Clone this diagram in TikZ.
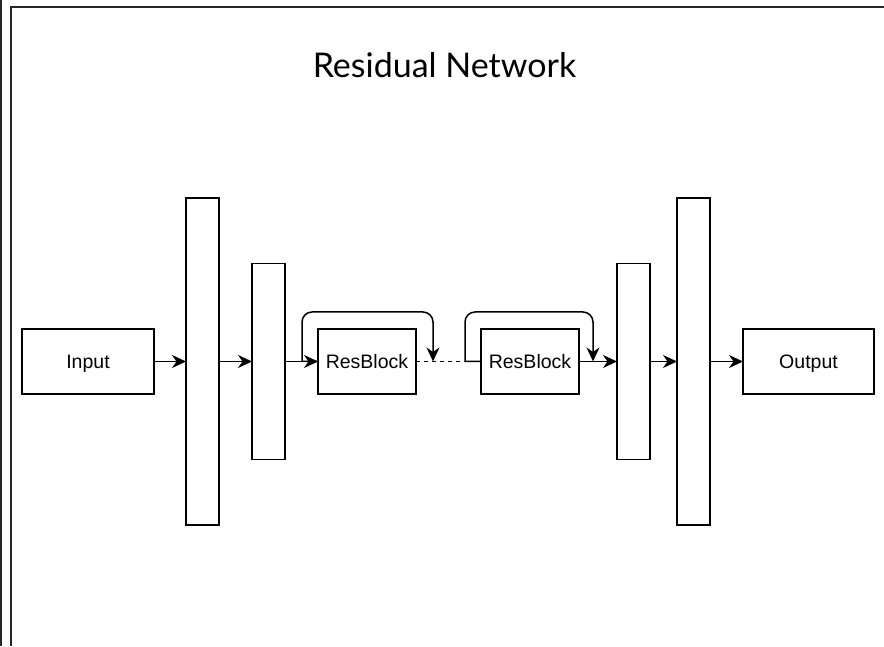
\documentclass[tikz,border=0pt]{standalone}
\usepackage{fontspec}
\setmainfont{Liberation Sans}
\newfontfamily\titlefont{Lato}
\usetikzlibrary{positioning, arrows.meta}

\begin{document}
\begin{tikzpicture}[x=1pt, y=1pt,
	box/.style={draw, line width=1.5pt, outer sep=0pt, minimum width=132pt, minimum height=65pt, inner sep=0pt, text height=15pt, text depth=0pt, font=\fontsize{19.5}{22}\selectfont},
	bar/.style={draw, line width=1.5pt, outer sep=0pt, minimum width=33pt, inner sep=0pt},
	flow/.style={line width=1.5pt, -{Stealth[length=14pt, width=13pt, inset=4.5pt]}}]
	\useasboundingbox (0,0) rectangle (884,646);
	\draw[line width=2pt, black!85] (1,0) -- (1,646);
	\draw[line width=2pt, black!85] (11,0) -- (11,639) -- (890,639);
	
	\node[anchor=base, font=\titlefont\fontsize{34}{38}\selectfont] (title) at (444.5,568) {Residual Network};
	
	\node[box] (in) at (88,284.5) {Input};
	\node[bar, minimum height=327pt, right=32pt of in] (e1) {};
	\node[bar, minimum height=196pt, right=33pt of e1] (e2) {};
	\node[box, minimum width=98pt, right=33pt of e2] (r1) {ResBlock};
	\node[box, minimum width=98pt, right=65pt of r1] (r2) {ResBlock};
	\node[bar, minimum height=196pt, right=38pt of r2] (d1) {};
	\node[bar, minimum height=327pt, right=27pt of d1] (d2) {};
	\node[box, minimum width=131pt, right=33pt of d2] (out) {Output};
	
	\coordinate[left=16pt of r1] (s1);
	\coordinate[right=17pt of r1] (j1);
	\coordinate[left=16pt of r2] (s2);
	\coordinate[right=14pt of r2] (j2);
	
	\draw[flow] (in) -- (e1);
	\draw[flow] (e1) -- (e2);
	\draw[flow] (e2) -- (r1);
	\draw[line width=1.5pt, dash pattern=on 4pt off 4pt] (r1) -- (r2);
	\draw[flow] (r2) -- (d1);
	\draw[flow] (d1) -- (d2);
	\draw[flow] (d2) -- (out);
	
	\draw[flow] (r1) -- (s1) [rounded corners=10pt] -- ++(0,49.5) -| (j1);
	\draw[flow] (r2) -- (s2) [rounded corners=10pt] -- ++(0,49.5) -| (j2);
\end{tikzpicture}
\end{document}
